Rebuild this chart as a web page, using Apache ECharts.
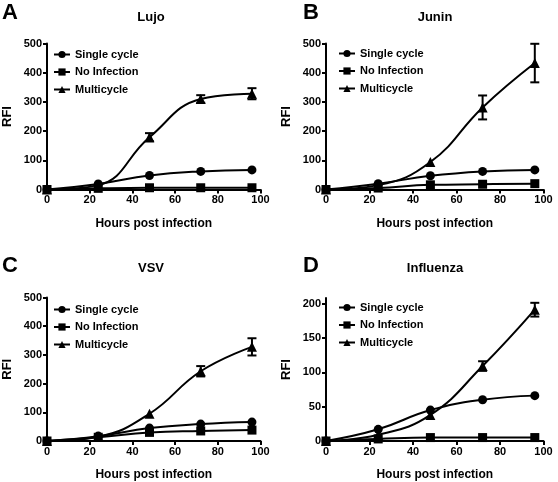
<!DOCTYPE html>
<html>
<head>
<meta charset="utf-8">
<script src="https://cdn.jsdelivr.net/npm/echarts@6/dist/echarts.min.js"></script>
<style>
html,body{margin:0;padding:0;background:#fff;}
#chart{width:558px;height:482px;}
</style>
</head>
<body>
<div id="chart"></div>
<script>
// ---- Data ----
var hours = [0, 24, 48, 72, 96];
var seriesNames = ['Single cycle', 'No Infection', 'Multicycle'];
var panelLetters = ['A', 'B', 'C', 'D'];
var panelTitles = ['Lujo', 'Junin', 'VSV', 'Influenza'];
var xTitle = 'Hours post infection';
var yTitle = 'RFI';

// Lujo
var lujoSingle = [0, 19, 48, 62, 67];
var lujoNone   = [0, 4, 6, 6, 6];
var lujoMulti  = [0, 15, 179, 310, 328];
var lujoMultiErr = [0, 0, 14, 13, 19];
// Junin
var juninSingle = [0, 20, 47, 62, 67];
var juninNone   = [0, 5, 16, 18, 20];
var juninMulti  = [0, 15, 94, 281, 433];
var juninMultiErr = [0, 0, 0, 41, 66];
// VSV
var vsvSingle = [0, 17, 45, 59, 66];
var vsvNone   = [0, 13, 30, 35, 38];
var vsvMulti  = [0, 15, 95, 243, 328];
var vsvMultiErr = [0, 0, 0, 18, 30];
// Influenza
var fluSingle = [0, 17, 45, 60, 66];
var fluNone   = [0, 3, 5, 5, 5];
var fluMulti  = [0, 9, 38, 109, 191];
var fluMultiErr = [0, 0, 0, 7, 10];

var panels = [
  {single: lujoSingle, none: lujoNone, multi: lujoMulti, err: lujoMultiErr},
  {single: juninSingle, none: juninNone, multi: juninMulti, err: juninMultiErr},
  {single: vsvSingle, none: vsvNone, multi: vsvMulti, err: vsvMultiErr},
  {single: fluSingle, none: fluNone, multi: fluMulti, err: fluMultiErr}
];
var yMax = [500, 500, 500, 208];
var yInterval = [100, 100, 100, 50];

// ---- Layout ----
var grids = [
  {left: 42, top: 43.5, width: 218.5, height: 146},
  {left: 326, top: 43.5, width: 217.5, height: 146},
  {left: 42, top: 297.5, width: 218.5, height: 146},
  {left: 326, top: 298, width: 217.5, height: 145.5}
];
var legendPos = [
  {left: 48, top: 44},
  {left: 333, top: 43},
  {left: 48, top: 299},
  {left: 333, top: 297}
];
var titlePos = [[151, 17], [435, 17], [151, 268], [435, 268]];
var letterPos = [[2, 13], [303, 13], [2, 266], [303, 266]];

var FONT = '"Liberation Sans", Arial, sans-serif';
var symbols = ['circle', 'rect', 'triangle'];

var xAxes = [], yAxes = [], series = [], legends = [], graphics = [];

panels.forEach(function (p, i) {
  xAxes.push({
    type: 'value', gridIndex: i, min: 0, max: 100, interval: 20,
    name: xTitle, nameLocation: 'middle', nameGap: 28,
    nameTextStyle: {fontFamily: FONT, fontWeight: 'bold', fontSize: 12, color: '#000'},
    axisLine: {onZero: false, lineStyle: {color: '#000', width: 2}},
    axisTick: {length: 4, lineStyle: {color: '#000', width: 2}},
    axisLabel: {fontFamily: FONT, fontWeight: 'bold', fontSize: 11, color: '#000', margin: 5},
    splitLine: {show: false}
  });
  yAxes.push({
    type: 'value', gridIndex: i, min: 0, max: yMax[i], interval: yInterval[i],
    name: yTitle, nameLocation: 'middle', nameGap: 33,
    nameTextStyle: {fontFamily: FONT, fontWeight: 'bold', fontSize: 13, color: '#000'},
    axisLine: {show: true, lineStyle: {color: '#000', width: 2}},
    axisTick: {show: true, length: 4, lineStyle: {color: '#000', width: 2}},
    axisLabel: {fontFamily: FONT, fontWeight: 'bold', fontSize: 11, color: '#000', margin: 5,
      showMaxLabel: yMax[i] % yInterval[i] === 0,
      formatter: function (v) { return v % yInterval[i] === 0 ? String(v) : ''; }},
    splitLine: {show: false}
  });
  var vals = [p.single, p.none, p.multi];
  vals.forEach(function (arr, k) {
    series.push({
      type: 'line', name: seriesNames[k], xAxisIndex: i, yAxisIndex: i,
      data: hours.map(function (h, j) { return [h, arr[j]]; }),
      smooth: 0.45, symbol: symbols[k], symbolSize: k === 2 ? 10 : 9,
      clip: false,
      lineStyle: {color: '#000', width: 2},
      itemStyle: {color: '#000'},
      z: 3
    });
  });
  series.push({
    type: 'custom', name: 'err' + i, xAxisIndex: i, yAxisIndex: i,
    data: hours.map(function (h, j) { return [h, p.multi[j] - p.err[j], p.multi[j] + p.err[j]]; })
      .filter(function (d, j) { return p.err[j] > 0; }),
    renderItem: function (params, api) {
      var lo = api.coord([api.value(0), api.value(1)]);
      var hi = api.coord([api.value(0), api.value(2)]);
      var hw = 4.5;
      var st = {stroke: '#000', lineWidth: 2};
      return {type: 'group', children: [
        {type: 'line', shape: {x1: lo[0], y1: lo[1], x2: hi[0], y2: hi[1]}, style: st},
        {type: 'line', shape: {x1: lo[0] - hw, y1: lo[1], x2: lo[0] + hw, y2: lo[1]}, style: st},
        {type: 'line', shape: {x1: hi[0] - hw, y1: hi[1], x2: hi[0] + hw, y2: hi[1]}, style: st}
      ]};
    },
    z: 4
  });
  legends.push({
    data: seriesNames, orient: 'vertical', left: legendPos[i].left, top: legendPos[i].top,
    itemWidth: 16, itemHeight: 9, itemGap: 6.5, selectedMode: false,
    textStyle: {fontFamily: FONT, fontWeight: 'bold', fontSize: 11, color: '#000'}
  });
  graphics.push({
    type: 'text', x: titlePos[i][0], y: titlePos[i][1],
    style: {text: panelTitles[i], fontFamily: FONT, fontWeight: 'bold', fontSize: 13,
      fill: '#000', align: 'center', verticalAlign: 'middle'}
  });
  graphics.push({
    type: 'text', x: letterPos[i][0], y: letterPos[i][1],
    style: {text: panelLetters[i], fontFamily: FONT, fontWeight: 'bold', fontSize: 22,
      fill: '#000', align: 'left', verticalAlign: 'middle'}
  });
});

var chart = echarts.init(document.getElementById('chart'), null, {renderer: 'canvas'});
chart.setOption({
  backgroundColor: '#fff',
  animation: false,
  grid: grids,
  xAxis: xAxes,
  yAxis: yAxes,
  legend: legends,
  series: series,
  graphic: graphics
});
</script>
</body>
</html>
